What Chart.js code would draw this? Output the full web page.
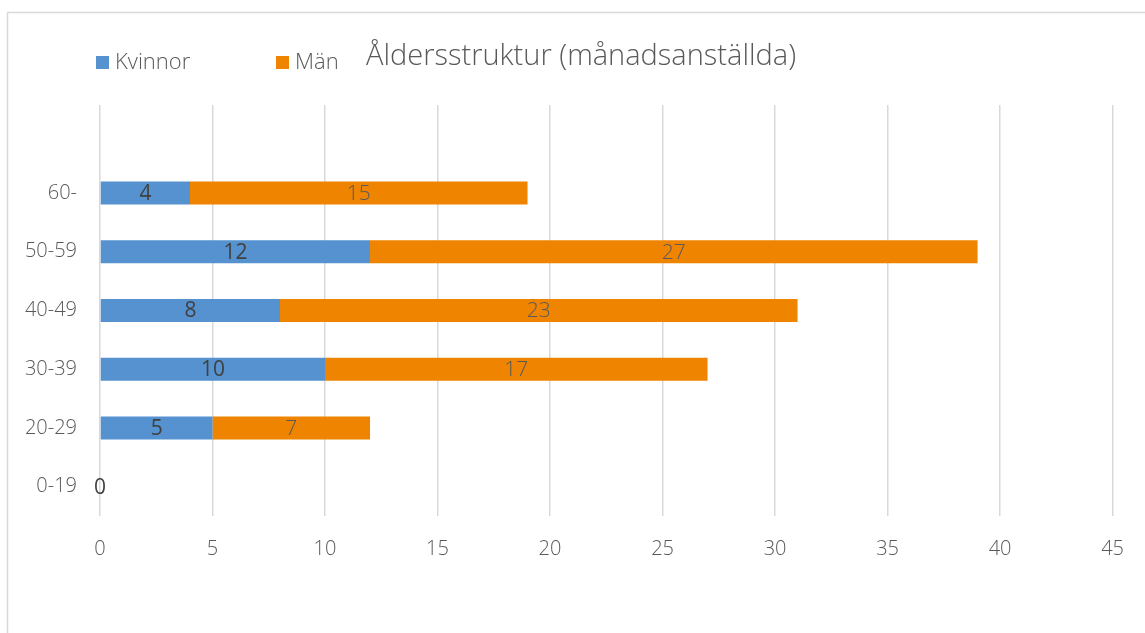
<!DOCTYPE html>
<html>
<head>
<meta charset="utf-8">
<script src="https://cdn.jsdelivr.net/npm/chart.js@4.4.1/dist/chart.umd.min.js"></script>
<style>
  html, body { margin: 0; padding: 0; background: #fff; }
  #wrap { width: 1145px; height: 633px; position: relative; }
</style>
</head>
<body>
<div id="wrap"><canvas id="chart" width="1145" height="633"></canvas></div>
<script>
// Data (top category is an empty slot, as in the original)
const categories = ["", "60-", "50-59", "40-49", "30-39", "20-29", "0-19"];
const kvinnor = [null, 4, 12, 8, 10, 5, 0];
const man = [null, 15, 27, 23, 17, 7, null];
const seriesNames = ["Kvinnor", "Män"];
const xTicks = [0, 5, 10, 15, 20, 25, 30, 35, 40, 45];

const BLUE = "#5592cf";
const ORANGE = "#ee8400";
const FONT = "'Open Sans', 'Liberation Sans', sans-serif";

// frame, title, legend and bar labels
const decor = {
  id: "decor",
  beforeDraw(chart) {
    const c = chart.ctx;
    c.save();
    c.strokeStyle = "#d9d9d9";
    c.lineWidth = 1.5;
    c.beginPath();
    c.moveTo(7.5, 640);
    c.lineTo(7.5, 12.5);
    c.lineTo(1150, 12.5);
    c.stroke();
    c.restore();
  },
  afterDatasetsDraw(chart) {
    const c = chart.ctx;
    c.save();
    // title
    c.fillStyle = "#595959";
    c.font = "300 29px " + FONT;
    c.textAlign = "left";
    c.textBaseline = "middle";
    c.fillText("Åldersstruktur (månadsanställda)", 366, 57);
    // legend
    const items = [[seriesNames[0], BLUE, 96], [seriesNames[1], ORANGE, 276]];
    c.font = "300 22px " + FONT;
    for (const [name, col, x] of items) {
      c.fillStyle = col;
      c.fillRect(x, 56, 13, 13);
      c.fillStyle = "#595959";
      c.fillText(name, x + 19, 63);
    }
    // value labels
    chart.data.datasets.forEach((ds, di) => {
      const meta = chart.getDatasetMeta(di);
      meta.data.forEach((bar, i) => {
        const v = ds.data[i];
        if (v === null || v === undefined) return;
        const p = bar.getProps(["x", "y", "base"], true);
        const cx = (p.x + p.base) / 2;
        c.textAlign = "center";
        c.textBaseline = "middle";
        if (di === 0) {
          c.font = "500 21px " + FONT;
          c.fillStyle = "#404040";
        } else {
          c.font = "300 21px " + FONT;
          c.fillStyle = "#595959";
        }
        c.fillText(String(v), cx, p.y + 1);
      });
    });
    c.restore();
  }
};

new Chart(document.getElementById("chart"), {
  type: "bar",
  data: {
    labels: categories,
    datasets: [
      { label: seriesNames[0], data: kvinnor, backgroundColor: BLUE, borderWidth: 0,
        barPercentage: 0.8, categoryPercentage: 0.49 },
      { label: seriesNames[1], data: man, backgroundColor: ORANGE, borderWidth: 0,
        barPercentage: 0.8, categoryPercentage: 0.49 }
    ]
  },
  options: {
    indexAxis: "y",
    responsive: false,
    animation: false,
    layout: { padding: { left: 0, top: 105, right: 27, bottom: 0 } },
    plugins: { legend: { display: false }, title: { display: false }, tooltip: { enabled: false } },
    scales: {
      x: {
        stacked: true,
        min: 0,
        max: 45,
        afterBuildTicks(axis) { axis.ticks = xTicks.map(v => ({ value: v })); },
        afterFit(axis) { axis.height = 117; },
        grid: { color: "#d9d9d9", lineWidth: 1.5, drawTicks: false },
        border: { display: false },
        ticks: { color: "#595959", font: { family: FONT, size: 20, weight: 300 }, padding: 21 }
      },
      y: {
        stacked: true,
        afterFit(axis) { axis.width = 100; },
        grid: { display: false, drawTicks: false },
        border: { display: false },
        ticks: { color: "#595959", font: { family: FONT, size: 20, weight: 300 }, padding: 23 }
      }
    }
  },
  plugins: [decor]
});
</script>
</body>
</html>
